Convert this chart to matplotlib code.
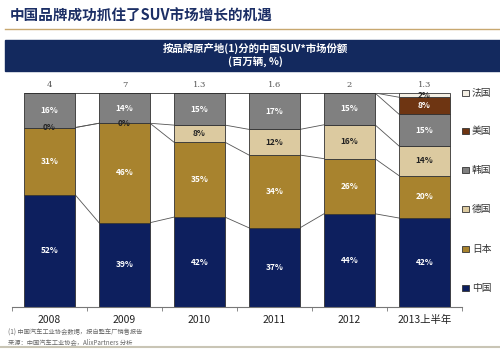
import numpy as np
import matplotlib
matplotlib.use('Agg')
import matplotlib.pyplot as plt
from matplotlib.patches import Rectangle
from matplotlib.lines import Line2D

plt.rcParams['font.family'] = ['Noto Sans CJK SC', 'DejaVu Sans']

years = ['2008', '2009', '2010', '2011', '2012', '2013上半年']
totals = ['4', '7', '1.3', '1.6', '2', '1.3']
# share by brand origin, bottom to top
china   = [52, 39, 42, 37, 44, 42]
japan   = [31, 46, 35, 34, 26, 20]
germany = [0, 0, 8, 12, 16, 14]
korea   = [16, 14, 15, 17, 15, 15]
usa     = [0, 0, 0, 0, 0, 8]
france  = [0, 0, 0, 0, 0, 2]

names = ['中国', '日本', '德国', '韩国', '美国', '法国']
colors = ['#0d1f5e', '#a8832e', '#dccaa0', '#808080', '#6e3512', '#f4efe4']
txtcol = ['white', 'white', '#222222', 'white', 'white', '#222222']

series = np.array([china, japan, germany, korea, usa, france], dtype=float)
sums = series.sum(axis=0)
shares = series / sums * 100  # bars drawn to full height

W, H = 500, 350
fig = plt.figure(figsize=(5, 3.5), dpi=100)

# header
fig.text(10 / W, 1 - 16 / H, '中国品牌成功抓住了SUV市场增长的机遇', fontsize=10.5,
         color='#1c2f66', fontweight='bold', va='center', ha='left')
fig.add_artist(Line2D([5 / W, 1], [1 - 29 / H, 1 - 29 / H], color='#c8a870', lw=1.0))
fig.add_artist(Rectangle((5 / W, 1 - 71 / H), 495 / W, 31 / H, color='#13295e',
                         transform=fig.transFigure))
fig.text(255 / W, 1 - 48 / H, '按品牌原产地(1)分的中国SUV*市场份额', fontsize=7.5,
         color='white', fontweight='bold', ha='center', va='center')
fig.text(255 / W, 1 - 62 / H, '(百万辆, %)', fontsize=7.5,
         color='white', fontweight='bold', ha='center', va='center')

ax = fig.add_axes([12 / W, (H - 307) / H, 450 / W, 214 / H])
x = np.arange(len(years))
bw = 0.68
bottom = np.zeros(len(years))
for i in range(len(names)):
    ax.bar(x, shares[i], bw, bottom=bottom, color=colors[i],
           edgecolor='#333333', linewidth=0.6, zorder=2)
    for j in range(len(years)):
        v = series[i, j]
        if v > 0 or i == 2 and j < 2:
            if v == 0:
                ypos = bottom[j]
            else:
                ypos = bottom[j] + shares[i, j] / 2
            ax.text(x[j], ypos, '%d%%' % v, ha='center', va='center', fontsize=6,
                    fontweight='bold', color=txtcol[i] if v > 0 else '#222222',
                    zorder=4)
    top = bottom + shares[i]
    # connector lines between adjacent bars
    for j in range(len(years) - 1):
        ax.plot([x[j] + bw / 2, x[j + 1] - bw / 2], [top[j], top[j + 1]],
                color='#555555', lw=0.6, zorder=1)
    bottom = top

for j in range(len(years)):
    ax.text(x[j], 103.7, totals[j], ha='center', va='center', fontsize=6,
            color='#555555', family='DejaVu Serif')

ax.set_xlim(-0.5, len(years) - 0.5)
ax.set_ylim(0, 100)
for s in ['top', 'right', 'left']:
    ax.spines[s].set_visible(False)
ax.spines['bottom'].set_color('#777777')
ax.spines['bottom'].set_linewidth(0.8)
ax.set_yticks([])
ax.set_xticks(x)
ax.set_xticklabels(years, fontsize=7.5, color='#222222')
ax.tick_params(axis='x', which='major', length=0, pad=6)
ax.set_xticks(np.arange(-0.5, len(years), 1), minor=True)
ax.tick_params(axis='x', which='minor', length=3, color='#777777', direction='out')
ax.patch.set_alpha(0)

# legend on the right, top to bottom: 法国 ... 中国
ly = [93, 131, 170, 209, 249, 288]
for k, i in enumerate(range(len(names) - 1, -1, -1)):
    yy = 1 - ly[k] / H
    fig.add_artist(Rectangle((462 / W, yy - 3.2 / H), 6.5 / W, 6.5 / H,
                             facecolor=colors[i], edgecolor='#333333', lw=0.6,
                             transform=fig.transFigure))
    fig.text(472 / W, yy, names[i], fontsize=7, color='#333333', va='center', ha='left')

# footnotes
fig.text(8 / W, 1 - 333 / H, '(1) 中国汽车工业协会数据，按自整车厂销售报告', fontsize=4.5,
         color='#666666', va='center')
fig.text(8 / W, 1 - 342 / H, '来源：中国汽车工业协会，AlixPartners 分析', fontsize=4.5,
         color='#666666', va='center')
fig.add_artist(Line2D([0, 1], [1 - 347 / H, 1 - 347 / H], color='#c9c5b5', lw=1.5))

fig.savefig('out.png', dpi=100)
